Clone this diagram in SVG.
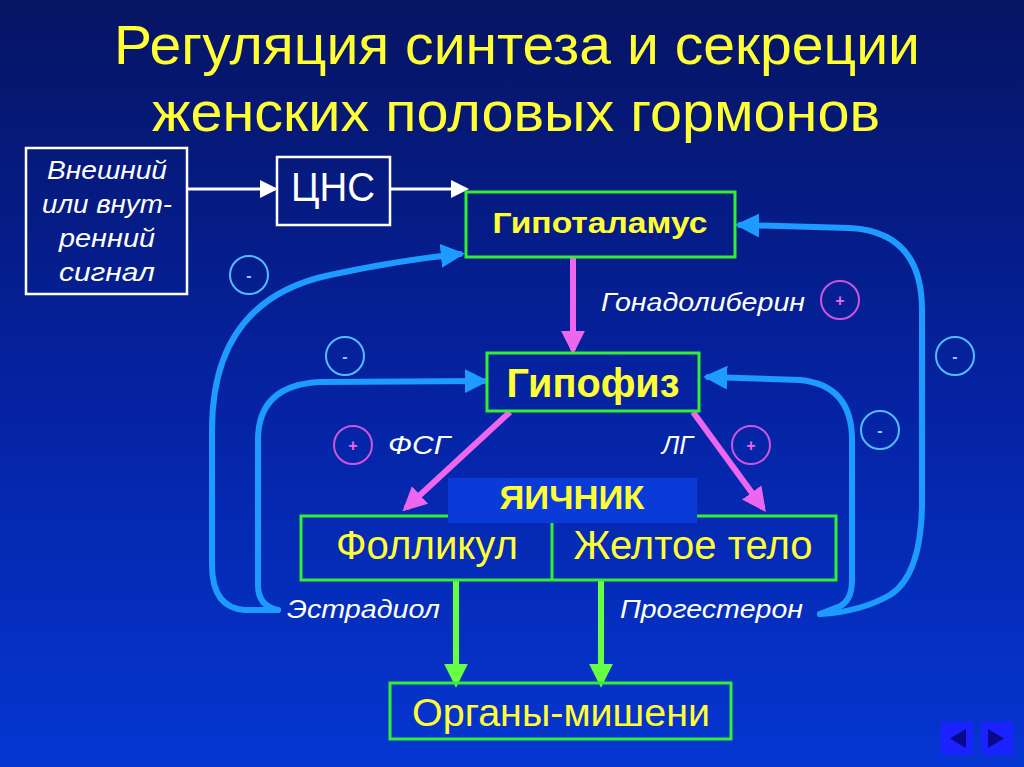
<svg xmlns="http://www.w3.org/2000/svg" width="1024" height="767" viewBox="0 0 1024 767">
<defs>
<linearGradient id="bg" x1="0" y1="0" x2="0" y2="1">
<stop offset="0" stop-color="#061463"/>
<stop offset="0.5" stop-color="#0522a0"/>
<stop offset="1" stop-color="#0536d2"/>
</linearGradient>
<marker id="aw" markerWidth="6" markerHeight="6" refX="5" refY="3" orient="auto" markerUnits="strokeWidth"><path d="M0,0 L6,3 L0,6 z" fill="#ffffff"/></marker>
<marker id="ap" markerWidth="4" markerHeight="4" refX="3.2" refY="2" orient="auto" markerUnits="strokeWidth"><path d="M0,0 L4,2 L0,4 z" fill="#ee66ee"/></marker>
<marker id="ag" markerWidth="4" markerHeight="4" refX="3.2" refY="2" orient="auto" markerUnits="strokeWidth"><path d="M0,0 L4,2 L0,4 z" fill="#66ff44"/></marker>
<marker id="ab" markerWidth="4" markerHeight="4" refX="3.2" refY="2" orient="auto" markerUnits="strokeWidth"><path d="M0,0 L4,2 L0,4 z" fill="#1e9bff"/></marker>
</defs>
<style>
.box{fill:none;stroke:#33ee33;stroke-width:3}
.wbox{fill:none;stroke:#ffffff;stroke-width:2.5}
.title{font-family:"Liberation Sans",Arial,sans-serif;font-size:56px;fill:#ffff33}
.yb{font-family:"Liberation Sans",Arial,sans-serif;font-weight:bold;fill:#ffff33;text-anchor:middle}
.y{font-family:"Liberation Sans",Arial,sans-serif;fill:#ffff33;text-anchor:middle}
.wi{font-family:"Liberation Sans",Arial,sans-serif;font-style:italic;fill:#ffffff;font-size:25px}
.fb{fill:none;stroke:#1e9bff;stroke-width:6;stroke-linecap:round}
.pk{stroke:#ee66ee;stroke-width:6}
.gr{stroke:#66ff44;stroke-width:6}
.cm{fill:none;stroke:#55bbff;stroke-width:2}
.cp{fill:none;stroke:#cc55dd;stroke-width:2}
.sgn{font-family:"Liberation Sans",Arial,sans-serif;font-weight:bold;font-size:16px;text-anchor:middle}
</style>
<rect width="1024" height="767" fill="url(#bg)"/>
<g id="title">
<text class="title" x="114" y="64" textLength="806" lengthAdjust="spacingAndGlyphs">Регуляция синтеза и секреции</text>
<text class="title" x="152" y="131" textLength="728" lengthAdjust="spacingAndGlyphs">женских половых гормонов</text>
</g>
<g id="connectors">
<line x1="188" y1="189" x2="275" y2="189" stroke="#fff" stroke-width="3" marker-end="url(#aw)"/>
<line x1="390" y1="189" x2="466" y2="189" stroke="#fff" stroke-width="3" marker-end="url(#aw)"/>
<line class="pk" x1="573" y1="258" x2="573" y2="350" marker-end="url(#ap)"/>
<line class="pk" x1="510" y1="412" x2="406" y2="508" marker-end="url(#ap)"/>
<line class="pk" x1="693" y1="412" x2="763" y2="508" marker-end="url(#ap)"/>
<line class="gr" x1="456" y1="580" x2="456" y2="683" marker-end="url(#ag)"/>
<line class="gr" x1="601" y1="580" x2="601" y2="683" marker-end="url(#ag)"/>
<path class="fb" d="M278,610 L245,610 Q212,608 212,565 L212,430 Q212,300 330,275 Q400,260 460,254" marker-end="url(#ab)"/>
<path class="fb" d="M278,610 Q258,606 258,585 L258,440 Q258,385 320,382 L484,381" marker-end="url(#ab)"/>
<path class="fb" d="M820,614 L835,608 Q852,604 852,580 L852,440 Q852,385 800,380 L708,377" marker-end="url(#ab)"/>
<path class="fb" d="M820,614 Q860,612 890,595 Q922,575 922,500 L922,310 Q922,232 850,228 L740,225" marker-end="url(#ab)"/>
</g>
<g id="signal">
<rect class="wbox" x="26" y="148" width="161" height="146"/>
<text class="wi" x="107" y="179" text-anchor="middle" textLength="120" lengthAdjust="spacingAndGlyphs">Внешний</text>
<text class="wi" x="107" y="213" text-anchor="middle" textLength="130" lengthAdjust="spacingAndGlyphs">или внут-</text>
<text class="wi" x="107" y="247" text-anchor="middle" textLength="96" lengthAdjust="spacingAndGlyphs">ренний</text>
<text class="wi" x="107" y="281" text-anchor="middle" textLength="96" lengthAdjust="spacingAndGlyphs">сигнал</text>
</g>
<g id="cns">
<rect class="wbox" x="277" y="157" width="113" height="68"/>
<text x="333" y="201" font-family="Liberation Sans,Arial,sans-serif" font-size="40" fill="#ffffff" text-anchor="middle" textLength="84" lengthAdjust="spacingAndGlyphs">ЦНС</text>
</g>
<g id="hypothalamus">
<rect class="box" x="466" y="192" width="269" height="65"/>
<text class="yb" x="600" y="233" font-size="30" textLength="215" lengthAdjust="spacingAndGlyphs">Гипоталамус</text>
</g>
<g id="gonadoliberin">
<text class="wi" x="601" y="311" textLength="204" lengthAdjust="spacingAndGlyphs">Гонадолиберин</text>
<circle class="cp" cx="840" cy="300" r="19"/>
<text class="sgn" x="840" y="306" fill="#ee66ee">+</text>
</g>
<g id="hypophysis">
<rect class="box" x="487" y="353" width="212" height="58"/>
<text class="yb" x="593" y="397" font-size="40" textLength="173" lengthAdjust="spacingAndGlyphs">Гипофиз</text>
</g>
<g id="fsh">
<circle class="cp" cx="353" cy="445" r="19"/>
<text class="sgn" x="353" y="451" fill="#ee66ee">+</text>
<text class="wi" x="388" y="454" textLength="62" lengthAdjust="spacingAndGlyphs">ФСГ</text>
</g>
<g id="lh">
<text class="wi" x="662" y="454" textLength="31" lengthAdjust="spacingAndGlyphs">ЛГ</text>
<circle class="cp" cx="751" cy="445" r="19"/>
<text class="sgn" x="751" y="451" fill="#ee66ee">+</text>
</g>
<g id="ovary">
<rect class="box" x="301" y="516" width="535" height="64"/>
<line x1="552" y1="523" x2="552" y2="580" stroke="#33ee33" stroke-width="3"/>
<rect x="448" y="478" width="249" height="45" fill="#0a3ad8"/>
<text class="yb" x="572" y="509" font-size="33" textLength="145" lengthAdjust="spacingAndGlyphs">ЯИЧНИК</text>
<text class="y" x="427" y="559" font-size="40" textLength="182" lengthAdjust="spacingAndGlyphs">Фолликул</text>
<text class="y" x="693" y="559" font-size="40" textLength="239" lengthAdjust="spacingAndGlyphs">Желтое тело</text>
</g>
<g id="hormones">
<text class="wi" x="287" y="618" textLength="153" lengthAdjust="spacingAndGlyphs">Эстрадиол</text>
<text class="wi" x="620" y="618" textLength="183" lengthAdjust="spacingAndGlyphs">Прогестерон</text>
</g>
<g id="targets">
<rect class="box" x="390" y="683" width="341" height="56"/>
<text class="y" x="561" y="726" font-size="38" textLength="298" lengthAdjust="spacingAndGlyphs">Органы-мишени</text>
</g>
<g id="minus">
<circle class="cm" cx="249" cy="275" r="19"/><text class="sgn" x="249" y="281" fill="#88ccff">-</text>
<circle class="cm" cx="345" cy="356" r="19"/><text class="sgn" x="345" y="362" fill="#88ccff">-</text>
<circle class="cm" cx="955" cy="356" r="19"/><text class="sgn" x="955" y="362" fill="#88ccff">-</text>
<circle class="cm" cx="880" cy="430" r="19"/><text class="sgn" x="880" y="436" fill="#88ccff">-</text>
</g>
<g id="nav">
<rect x="941" y="722" width="32" height="33" fill="#1a22ff"/>
<path d="M950,738.5 L966,729 L966,748 z" fill="#0a0a88"/>
<rect x="981" y="722" width="32" height="33" fill="#1a22ff"/>
<path d="M1004,738.5 L988,729 L988,748 z" fill="#0a0a88"/>
</g>
</svg>
